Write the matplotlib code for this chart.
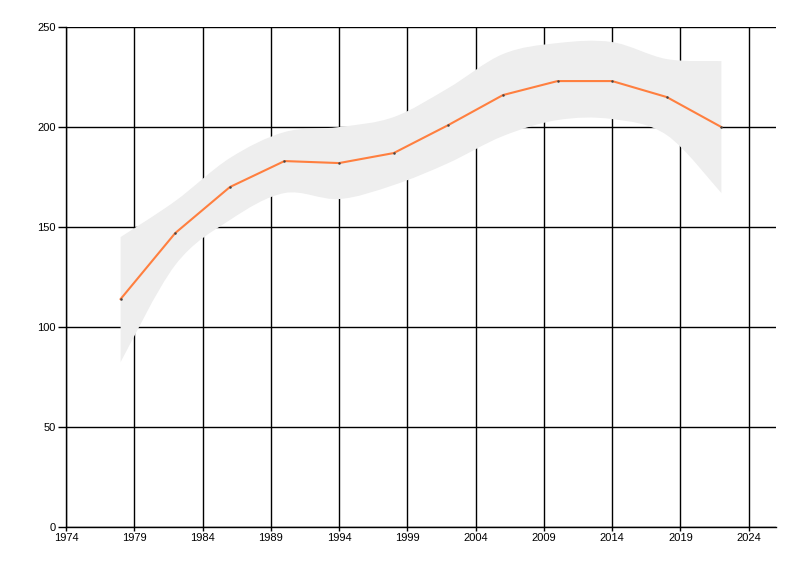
import numpy as np
import matplotlib
matplotlib.use("Agg")
from matplotlib import pyplot as plt
from matplotlib.path import Path
from matplotlib.patches import PathPatch

plt.rcParams["font.family"] = ["Liberation Sans", "DejaVu Sans"]

years = [1978, 1982, 1986, 1990, 1994, 1998, 2002, 2006, 2010, 2014, 2018, 2022]
values = [114, 147, 170, 183, 182, 187, 201, 216, 223, 223, 215, 200]
upper = [145, 163, 184.5, 197.5, 200, 205, 219.5, 236.5, 242, 242.5, 234, 233]
lower = [82.5, 131, 153.5, 167, 164, 171, 182, 195.5, 203.5, 204, 196, 167]

x_ticks = [1974, 1979, 1984, 1989, 1994, 1999, 2004, 2009, 2014, 2019, 2024]
y_ticks = [0, 50, 100, 150, 200, 250]


def spline_codes(xs, ys, start_move=True):
    # Catmull-Rom through the points, expressed as cubic bezier segments
    pts = np.column_stack([xs, ys]).astype(float)
    verts = [pts[0]]
    codes = [Path.MOVETO if start_move else Path.LINETO]
    n = len(pts)
    for i in range(n - 1):
        p0 = pts[i - 1] if i > 0 else pts[i]
        p1 = pts[i]
        p2 = pts[i + 1]
        p3 = pts[i + 2] if i + 2 < n else pts[i + 1]
        c1 = p1 + (p2 - p0) / 6.0
        c2 = p2 - (p3 - p1) / 6.0
        verts += [c1, c2, p2]
        codes += [Path.CURVE4] * 3
    return verts, codes


fig = plt.figure(figsize=(8, 5.76), dpi=100)
ax = fig.add_axes([0.0825, 0.085, 0.8875, 0.868])

v_up, c_up = spline_codes(years, upper)
v_lo, c_lo = spline_codes(years[::-1], lower[::-1], start_move=False)
band = Path(v_up + v_lo + [v_up[0]], c_up + c_lo + [Path.CLOSEPOLY])
ax.add_patch(PathPatch(band, facecolor="#eeeeee", edgecolor="none", zorder=2))

ax.plot(years, values, color="#ff7f3f", lw=1.5, zorder=3)
ax.plot(years, values, "o", color="#444444", ms=1.8, mew=0, zorder=4)

ax.set_xlim(1974, 2026)
ax.set_ylim(0, 250)
ax.set_xticks(x_ticks)
ax.set_yticks(y_ticks)
ax.grid(True, color="black", lw=1.0, zorder=1)
ax.set_axisbelow(True)

for side in ["top", "right"]:
    ax.spines[side].set_visible(False)
for side in ["left", "bottom"]:
    ax.spines[side].set_linewidth(1.0)
    ax.spines[side].set_zorder(5)

ax.tick_params(axis="y", labelsize=8, length=5.5, width=1, pad=2)
ax.tick_params(axis="x", labelsize=8, length=3, width=1, pad=1)

fig.savefig("out.png", dpi=100)
